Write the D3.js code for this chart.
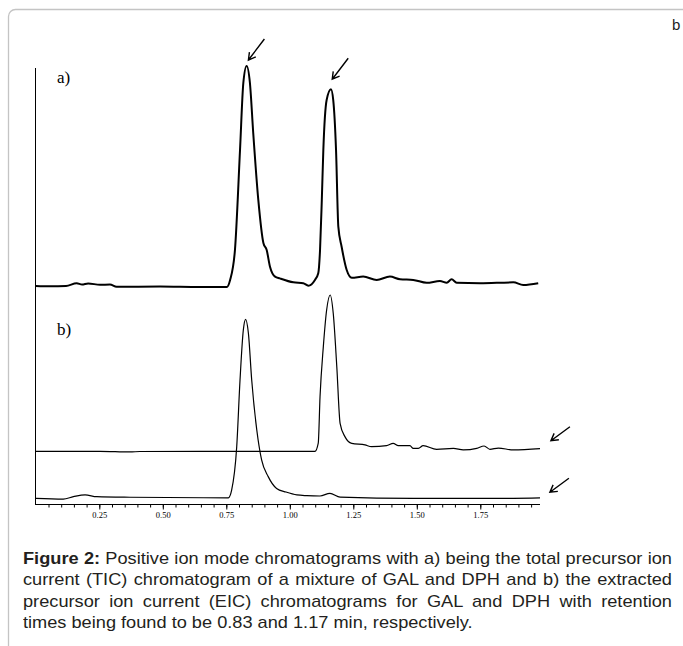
<!DOCTYPE html>
<html>
<head>
<meta charset="utf-8">
<script src="https://cdn.jsdelivr.net/npm/d3@7"></script>
<style>
  body { margin: 0; background: #fff; }
  #wrap { position: relative; width: 683px; height: 646px; overflow: hidden; }
  #caption { position: absolute; left: 23px; top: 547.5px; transform-origin: 0 0;
    font-family: "Liberation Sans", Arial, sans-serif;
    font-size: 17px; line-height: 21.5px; color: #231f20; }
  #caption div { text-align: justify; text-align-last: justify; white-space: nowrap; }
  #caption div.last { text-align-last: left; }
</style>
</head>
<body>
<div id="wrap">
  <svg id="graph" width="683" height="646"></svg>
  <div id="caption"></div>
</div>
<script>
/*******************************************************************************************/
// Data (time in min, intensity in % of each trace's own maximum)

var tic_t = [0.00, 0.056, 0.119, 0.161, 0.182, 0.206, 0.253, 0.292, 0.318, 0.489, 0.646, 0.752,
             0.765, 0.784, 0.804, 0.817, 0.830, 0.843, 0.856, 0.876, 0.896, 0.909, 0.922, 0.942,
             0.961, 1.014, 1.053, 1.073, 1.099, 1.112, 1.119, 1.126, 1.132, 1.145, 1.162, 1.171,
             1.182, 1.191, 1.204, 1.224, 1.244, 1.289, 1.342, 1.394, 1.434, 1.486, 1.539, 1.591,
             1.618, 1.637, 1.657, 1.749, 1.880, 1.919, 1.978];
var tic_i = [0.45, 0.3, 0.45, 1.7, 1.1, 1.6, 1.0, 1.1, 0.1, 0.2, 0.0, 0.0,
             3.2, 16.7, 62, 92.3, 100, 92.3, 69.7, 39.4, 19.9, 16.7, 9.2, 4.7,
             3.9, 2.1, 1.7, 0.6, 3.2, 6.2, 16.7, 39.4, 62, 84.6, 89.5, 84.6,
             62, 27.3, 18.2, 7.7, 4.2, 4.7, 3.2, 4.7, 3.5, 3.2, 1.9, 2.7,
             1.9, 3.5, 1.9, 1.7, 2.1, 0.9, 1.7];

var dph_t = [0.00, 0.253, 0.371, 0.410, 0.646, 1.099, 1.112, 1.119, 1.132, 1.145, 1.159, 1.171,
             1.185, 1.198, 1.217, 1.244, 1.296, 1.322, 1.381, 1.407, 1.427, 1.473, 1.486, 1.506,
             1.525, 1.578, 1.644, 1.683, 1.736, 1.765, 1.788, 1.821, 1.880, 1.985];
var dph_i = [0.1, 0.1, -0.3, 0.0, 0.1, 0.1, 5.4, 35, 67, 90.4, 100, 88.3,
             54.2, 18, 9.5, 5.2, 4.2, 3.1, 3.7, 5.2, 3.7, 3.7, 2.0, 2.0,
             3.7, 1.4, 2.0, 1.0, 2.0, 3.5, 1.4, 2.2, 1.0, 1.8];

var gal_t = [0.00, 0.108, 0.148, 0.194, 0.240, 0.371, 0.758, 0.771, 0.791, 0.804, 0.817, 0.826,
             0.837, 0.850, 0.870, 0.889, 0.915, 0.948, 0.985, 1.028, 1.067, 1.119, 1.158, 1.198,
             1.486, 1.880, 1.985];
var gal_i = [0.1, -0.3, 1.0, 2.0, 1.0, 0.7, 0.4, 4.7, 28.9, 66.1, 94, 100,
             92.2, 66.1, 38.2, 21.5, 12.2, 5.6, 3.6, 2.0, 1.6, 1.4, 2.9, 0.8,
             0.1, 0.1, 0.3];

var tick_labels = ['0.25', '0.50', '0.75', '1.00', '1.25', '1.50', '1.75'];
var panel_labels = ['a)', 'b)'];

// arrows: which trace, tip time, tip intensity
var arrow_trace = ['tic', 'tic', 'dph', 'gal'];
var arrow_t = [0.837, 1.167, 2.028, 2.024];
var arrow_i = [102.7, 94.0, 6.9, 3.5];

var caption_lines = [
  '<b>Figure 2:</b> Positive ion mode chromatograms with a) being the total precursor ion',
  'current (TIC) chromatogram of a mixture of GAL and DPH and b) the extracted',
  'precursor ion current (EIC) chromatograms for GAL and DPH with retention',
  'times being found to be 0.83 and 1.17 min, respectively.'
];

/*******************************************************************************************/
// Graph

var xScale = d3.scaleLinear().domain([0, 1.985]).range([35.8, 540]);
var yScales = {
  tic: d3.scaleLinear().domain([0, 100]).range([287, 66]),
  dph: d3.scaleLinear().domain([0, 100]).range([451.5, 295]),
  gal: d3.scaleLinear().domain([0, 100]).range([498.5, 319.3])
};

function createGraph(){
  var graph = d3.select('#graph');

  // frame
  graph.append('rect').attr('x', 8.5).attr('y', 9.5).attr('width', 720).attr('height', 700).attr('rx', 7)
       .style('fill', 'none').style('stroke', '#c4c4c4').style('stroke-width', 1.3);
  graph.append('text').attr('x', 672).attr('y', 30).text('b')
       .style('font-family', 'Liberation Sans, Arial, sans-serif').style('font-size', '15px').style('fill', '#222');

  // axes
  var xAxis = d3.axisBottom(xScale).tickValues(d3.range(1, 40).map(d => d * 0.05))
      .tickSize(3).tickFormat('');
  var gx = graph.append('g').attr('transform', 'translate(0,504.5)').call(xAxis);
  gx.select('.domain').attr('d', 'M35,0H540');
  gx.selectAll('line').style('stroke', '#000');

  var xMajor = d3.axisBottom(xScale).tickValues(tick_labels.map(Number)).tickSize(5)
      .tickFormat((d, i) => tick_labels[i]);
  var gm = graph.append('g').attr('transform', 'translate(0,504.5)').call(xMajor);
  gm.select('.domain').remove();
  gm.selectAll('line').style('stroke', '#000');
  gm.selectAll('text').attr('y', 8.5).attr('dy', '0.6em')
    .style('font-family', 'Liberation Serif, Times New Roman, serif').style('font-size', '8.5px').style('fill', '#000');

  graph.append('line').attr('x1', 35.5).attr('x2', 35.5).attr('y1', 68).attr('y2', 504.5)
       .style('stroke', '#000').style('stroke-width', 1);

  // traces
  var lineGen = d3.line().curve(d3.curveMonotoneX);
  var traces = [
    { key: 'tic', t: tic_t, i: tic_i, w: 2 },
    { key: 'dph', t: dph_t, i: dph_i, w: 1.2 },
    { key: 'gal', t: gal_t, i: gal_i, w: 1.2 }
  ];
  traces.forEach(function(tr){
    var pts = tr.t.map((t, k) => [xScale(t), yScales[tr.key](tr.i[k])]);
    graph.append('path').attr('d', lineGen(pts))
         .style('fill', 'none').style('stroke', '#000').style('stroke-width', tr.w).style('stroke-linejoin', 'round');
  });

  // panel labels
  graph.selectAll('.panel_label').data(panel_labels).enter().append('text')
       .attr('class', 'panel_label').attr('x', 57).attr('y', (d, i) => i == 0 ? 83 : 335).text(d => d)
       .style('font-family', 'Liberation Serif, Times New Roman, serif').style('font-size', '17px');

  // arrows
  arrow_trace.forEach(function(key, k){
    var x = xScale(arrow_t[k]), y = yScales[key](arrow_i[k]);
    var dx = key == 'tic' ? 16 : 19, dy = key == 'tic' ? -21 : -14;
    var len = Math.sqrt(dx*dx + dy*dy), ux = dx/len, uy = dy/len, h = 8, a = Math.PI/6;
    var w1 = [x + h*(ux*Math.cos(a) - uy*Math.sin(a)), y + h*(ux*Math.sin(a) + uy*Math.cos(a))];
    var w2 = [x + h*(ux*Math.cos(-a) - uy*Math.sin(-a)), y + h*(ux*Math.sin(-a) + uy*Math.cos(-a))];
    graph.append('path')
         .attr('d', 'M' + (x+dx) + ',' + (y+dy) + 'L' + x + ',' + y + 'M' + w1 + 'L' + x + ',' + y + 'L' + w2)
         .style('fill', 'none').style('stroke', '#000').style('stroke-width', 1.4);
  });
}

/*******************************************************************************************/
// Caption: fit the longest line into the 649px column, justify the rest

function createCaption(){
  var cap = d3.select('#caption');
  var lines = cap.selectAll('div').data(caption_lines).enter().append('div')
    .attr('class', (d, i) => i == caption_lines.length - 1 ? 'last' : null);
  lines.append('span').html(d => d);

  var widest = d3.max(lines.select('span').nodes(), n => n.getBoundingClientRect().width);
  var s = 646 / widest;
  cap.style('width', (649 / s) + 'px').style('transform', 'scaleX(' + s + ')');
  lines.html(d => d);
}

createGraph(); createCaption();
</script>
</body>
</html>
